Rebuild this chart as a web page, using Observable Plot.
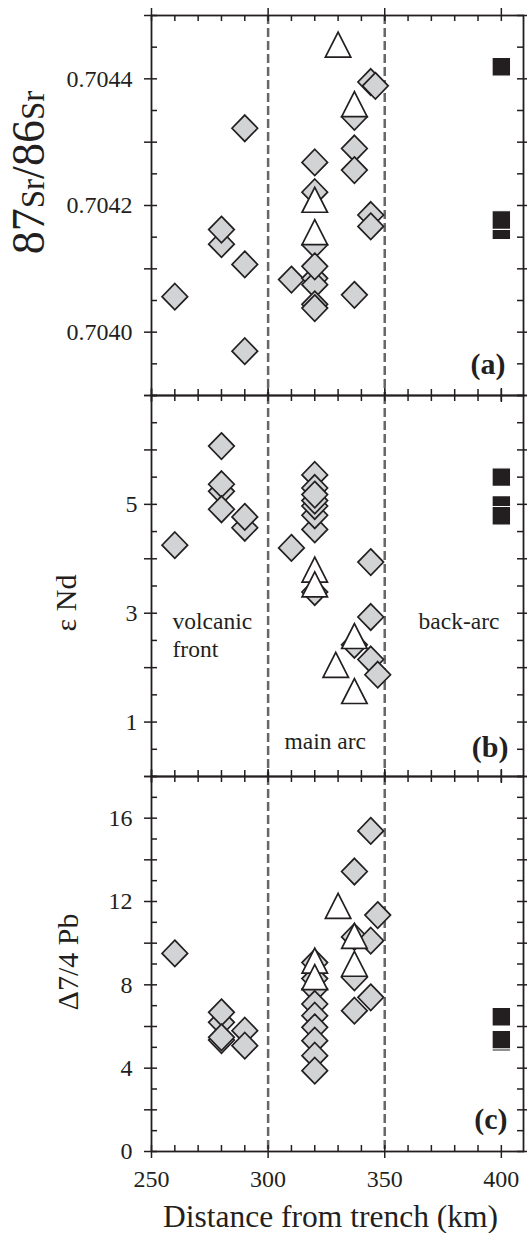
<!DOCTYPE html>
<html>
<head>
<meta charset="utf-8">
<script src="https://cdn.jsdelivr.net/npm/d3@7"></script>
<script src="https://cdn.jsdelivr.net/npm/@observablehq/plot@0.6"></script>
<style>
  body { margin: 0; background: #fff; }
  #chart { position: relative; width: 529px; height: 1233px; background: #fff; }
  #chart svg { position: absolute; left: 0; }
</style>
</head>
<body>
<div id="chart"></div>
<script>
// ---- shared x axis: distance from trench (km) ----
const xMajor = [250, 300, 350, 400];
const xMinor = [260, 270, 280, 290, 310, 320, 330, 340, 360, 370, 380, 390];
const zoneBounds = [300, 350];

// ---- (a) 87Sr/86Sr ----
const srDiamondKm = [260, 280, 280, 290, 290, 290, 310,
  320, 320, 320, 320, 320, 320, 320, 320,
  337, 337, 337, 337, 344, 344, 344, 346];
const srDiamondRatio = [0.704056, 0.704139, 0.704162, 0.704322, 0.704107, 0.703970, 0.704083,
  0.704268, 0.704221, 0.704138, 0.704085, 0.704075, 0.704104, 0.704044, 0.704038,
  0.704340, 0.704290, 0.704256, 0.704059, 0.704395, 0.704185, 0.704167, 0.704389];
const srTriangleKm = [330, 337, 320, 320];
const srTriangleRatio = [0.704454, 0.704360, 0.704209, 0.704158];
const srSquareKm = [400, 400, 400];
const srSquareRatio = [0.704419, 0.704161, 0.704177];
const srMajor = [0.7039, 0.7040, 0.7041, 0.7042, 0.7043, 0.7044, 0.7045];
const srMinor = [0.70395, 0.70405, 0.70415, 0.70425, 0.70435, 0.70445];
const srLabels = [0.7040, 0.7042, 0.7044];

// ---- (b) epsilon Nd ----
const ndDiamondKm = [260, 280, 280, 280, 280, 290, 290, 310,
  320, 320, 320, 320, 320, 320, 320, 320,
  337, 344, 344, 344, 347];
const ndDiamondValue = [4.25, 6.07, 5.24, 5.37, 4.91, 4.57, 4.77, 4.20,
  3.39, 5.54, 4.54, 4.80, 4.97, 5.07, 5.30, 5.18,
  2.42, 3.94, 2.93, 2.15, 1.87];
const ndTriangleKm = [320, 320, 337, 329, 337];
const ndTriangleValue = [3.80, 3.53, 2.58, 2.05, 1.57];
const ndSquareKm = [400, 400, 400];
const ndSquareValue = [5.50, 4.99, 4.79];
const ndMajor = [0, 1, 2, 3, 4, 5, 6, 7];
const ndMinor = [0.5, 1.5, 2.5, 3.5, 4.5, 5.5, 6.5];
const ndLabels = [1, 3, 5];

// ---- (c) Delta 7/4 Pb ----
const pbDiamondKm = [260, 280, 280, 280, 280, 290, 290,
  320, 320, 320, 320, 320, 320, 320, 320, 320,
  337, 337, 337, 337, 344, 344, 344, 347];
const pbDiamondValue = [9.51, 6.20, 5.35, 6.68, 5.48, 5.80, 5.08,
  9.07, 8.30, 7.80, 7.08, 6.52, 5.96, 5.32, 4.60, 3.88,
  13.44, 10.30, 8.36, 6.76, 15.39, 10.12, 7.40, 11.35];
const pbTriangleKm = [330, 337, 337, 320, 320];
const pbTriangleValue = [11.79, 10.35, 9.01, 9.16, 8.37];
const pbSquareKm = [400, 400, 400];
const pbSquareValue = [5.27, 6.47, 5.37];
const pbMajor = [0, 2, 4, 6, 8, 10, 12, 14, 16, 18];
const pbMinor = [1, 3, 5, 7, 9, 11, 13, 15, 17];
const pbLabels = [0, 4, 8, 12, 16];

const rows = (km, v) => km.map((d, i) => ({km: d, v: v[i]}));

// ---- symbols: rotated square, isoceles triangle, square ----
const diamond = {draw(ctx, size) {
  const r = Math.sqrt(size / Math.PI);
  ctx.moveTo(0, -r * 1.03); ctx.lineTo(r, 0); ctx.lineTo(0, r * 1.03); ctx.lineTo(-r, 0); ctx.closePath();
}};
const triangle = {draw(ctx, size) {
  const r = Math.sqrt(size / Math.PI), h = r * 0.98;
  ctx.moveTo(0, -h); ctx.lineTo(r, h); ctx.lineTo(-r, h); ctx.closePath();
}};
const square = {draw(ctx, size) {
  const r = Math.sqrt(size / Math.PI);
  ctx.rect(-r, -r, 2 * r, 2 * r);
}};

const ink = "#231f20";
const ML = 151, MR = 6, WIDTH = 529;
const serif = "'Liberation Serif', 'Times New Roman', serif";

function panel(cfg) {
  const W = WIDTH - ML - MR;
  const H = cfg.height - cfg.marginTop - cfg.marginBottom;
  const tk = {stroke: ink, strokeWidth: 1.5};
  const X = d => d;
  const marks = [
    Plot.ruleX(zoneBounds, {x: X, stroke: "#676767", strokeWidth: 2.5, strokeDasharray: "9,4"}),
    Plot.dot(cfg.diamonds, {x: "km", y: "v", symbol: diamond, r: 12.8, fill: "#d1d3d4", stroke: ink, strokeWidth: 1.7}),
    Plot.dot(cfg.triangles, {x: "km", y: "v", symbol: triangle, r: 12.7, fill: "white", stroke: ink, strokeWidth: 1.7}),
    Plot.dot(cfg.squares, {x: "km", y: "v", symbol: square, r: 9.3, fill: ink, stroke: "white", strokeWidth: 1.2}),
    Plot.frame({stroke: ink, strokeWidth: 1.8}),
    // x ticks: minor inward, major crossing, on both top and bottom edges
    Plot.tickX(xMinor, {x: X, insetTop: H - 6, ...tk}),
    Plot.tickX(xMinor, {x: X, insetBottom: H - 6, ...tk}),
    Plot.tickX(xMajor, {x: X, insetTop: H - 6, insetBottom: -7, ...tk}),
    Plot.tickX(xMajor, {x: X, insetBottom: H - 6, insetTop: -7, ...tk}),
    // y ticks on left and right edges
    Plot.tickY(cfg.minor, {y: X, insetRight: W - 6, ...tk}),
    Plot.tickY(cfg.minor, {y: X, insetLeft: W - 6, ...tk}),
    Plot.tickY(cfg.major, {y: X, insetRight: W - 6, insetLeft: -7, ...tk}),
    Plot.tickY(cfg.major, {y: X, insetLeft: W - 6, insetRight: -4, ...tk}),
    // y tick labels
    Plot.text(cfg.labels, {y: X, text: cfg.fmt, frameAnchor: "left", textAnchor: "end", lineAnchor: "middle",
      dx: cfg.labelDx, fontSize: 24, fill: ink}),
    Plot.text([cfg.letter], {frameAnchor: "bottom-right", textAnchor: "end", lineAnchor: "bottom",
      dx: cfg.letterDx, dy: cfg.letterDy, fontWeight: "bold", fontSize: 30, fill: ink}),
    Plot.text([cfg.title], {frameAnchor: "left", rotate: -90, textAnchor: "middle", lineAnchor: "bottom",
      dx: cfg.titleDx, dy: cfg.titleDy, fontSize: cfg.titleSize, fill: ink, ariaLabel: () => cfg.titleId}),
    ...(cfg.extra || [])
  ];
  const svg = Plot.plot({
    width: WIDTH,
    height: cfg.height,
    marginLeft: ML,
    marginRight: MR,
    marginTop: cfg.marginTop,
    marginBottom: cfg.marginBottom,
    x: {domain: [250, 409.5], axis: null},
    y: {domain: cfg.yDomain, axis: null},
    style: {background: "none", overflow: "visible", fontFamily: serif, fontSize: "24px", color: ink},
    marks
  });
  svg.style.top = cfg.top + "px";
  return svg;
}

const chart = document.getElementById("chart");

const svgA = panel({
  top: 0, height: 405, marginTop: 15, marginBottom: 10,
  yDomain: [0.7039, 0.7045], major: srMajor, minor: srMinor, labels: srLabels, fmt: d => d.toFixed(4), labelDx: -19,
  diamonds: rows(srDiamondKm, srDiamondRatio),
  triangles: rows(srTriangleKm, srTriangleRatio),
  squares: rows(srSquareKm, srSquareRatio),
  letter: "(a)", letterDx: -18, letterDy: -22,
  title: "87Sr/86Sr", titleId: "sr-title", titleSize: 46, titleDx: -108, titleDy: -33
});
chart.appendChild(svgA);

// isotope-style title: mass numbers full size, element symbol smaller on the same baseline
{
  let el = svgA.querySelector('[aria-label="sr-title"]');
  if (el && el.tagName.toLowerCase() !== "text") el = el.querySelector("text");
  if (el) {
    const t = d3.select(el);
    t.text(null);
    [["87", null], ["Sr", 33], ["/", null], ["86", null], ["Sr", 33]].forEach(([s, fs]) => {
      const span = t.append("tspan").text(s);
      if (fs) span.attr("font-size", fs);
    });
  }
}

const svgB = panel({
  top: 385, height: 401, marginTop: 10, marginBottom: 10,
  yDomain: [0, 7], major: ndMajor, minor: ndMinor, labels: ndLabels, fmt: d => String(d), labelDx: -14,
  diamonds: rows(ndDiamondKm, ndDiamondValue),
  triangles: rows(ndTriangleKm, ndTriangleValue),
  squares: rows(ndSquareKm, ndSquareValue),
  letter: "(b)", letterDx: -15, letterDy: -20,
  title: "ε Nd", titleId: "nd-title", titleSize: 30, titleDx: -76, titleDy: 17,
  extra: [
    Plot.text(["volcanic\nfront"], {x: 259, y: 2.19, textAnchor: "start", lineAnchor: "bottom", lineHeight: 1.19, fontSize: 23.5, fill: ink}),
    Plot.text(["back-arc"], {x: 364.5, y: 2.71, textAnchor: "start", lineAnchor: "bottom", fontSize: 23.5, fill: ink}),
    Plot.text(["main arc"], {x: 307, y: 0.5, textAnchor: "start", lineAnchor: "bottom", fontSize: 23.5, fill: ink})
  ]
});
chart.appendChild(svgB);

const svgC = panel({
  top: 766, height: 467, marginTop: 10, marginBottom: 82,
  yDomain: [0, 18], major: pbMajor, minor: pbMinor, labels: pbLabels, fmt: d => String(d), labelDx: -19,
  diamonds: rows(pbDiamondKm, pbDiamondValue),
  triangles: rows(pbTriangleKm, pbTriangleValue),
  squares: rows(pbSquareKm, pbSquareValue),
  letter: "(c)", letterDx: -16, letterDy: -23,
  title: "Δ7/4 Pb", titleId: "pb-title", titleSize: 30, titleDx: -74, titleDy: -2,
  extra: [
    // x tick labels under the bottom panel
    Plot.text(xMajor, {x: d => d, text: d => String(d), frameAnchor: "bottom", textAnchor: "middle", lineAnchor: "top",
      dy: 18, fontSize: 24, fill: ink}),
    Plot.text(["Distance from trench (km)"], {frameAnchor: "bottom", textAnchor: "middle", lineAnchor: "bottom",
      dx: -7, dy: 75, fontSize: 31.5, fill: ink})
  ]
});
chart.appendChild(svgC);
</script>
</body>
</html>
